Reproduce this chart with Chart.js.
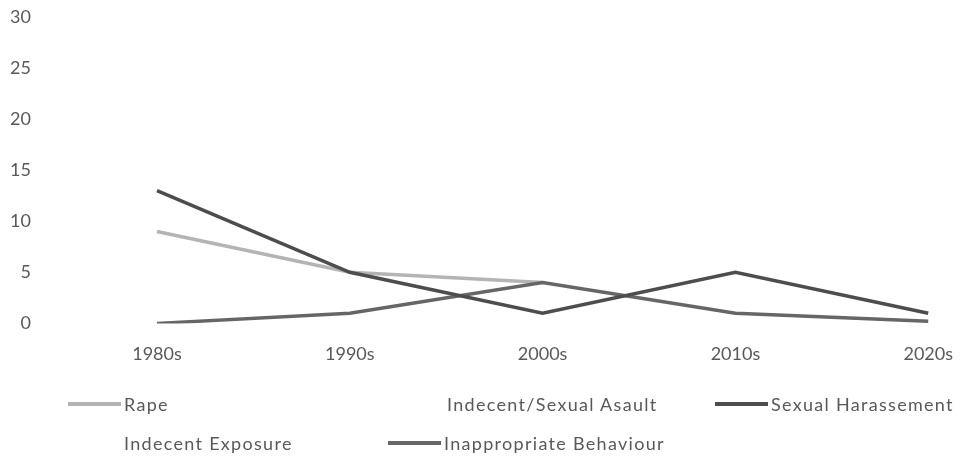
<!DOCTYPE html>
<html>
<head>
<meta charset="utf-8">
<script src="https://cdn.jsdelivr.net/npm/chart.js@4"></script>
<style>
  html, body { margin: 0; padding: 0; background: #fff; }
  #wrap { position: relative; width: 973px; height: 456px; }
  #c { position: absolute; left: 0; top: 0; }
  .lg { position: absolute; font-family: Lato, "Open Sans", sans-serif; font-size: 18px; letter-spacing: 1.3px; color: #595959; display: flex; align-items: center; white-space: nowrap; }
  .sw { width: 53px; height: 4px; margin-right: 3px; }
</style>
</head>
<body>
<div id="wrap">
  <canvas id="c" width="973" height="456"></canvas>
</div>
<script>
const categories = ["1980s", "1990s", "2000s", "2010s", "2020s"];
const rape = [9, 5, 4, null, null];
const indecentAssault = [null, null, null, null, null];
const sexualHarassment = [13, 5, 1, 5, 1];
const indecentExposure = [null, null, null, null, null];
const inappropriateBehaviour = [0, 1, 4, 1, 0.2];
const yTicks = [0, 5, 10, 15, 20, 25, 30];

const seriesNames = ["Rape", "Indecent/Sexual Asault", "Sexual Harassement", "Indecent Exposure", "Inappropriate Behaviour"];
const seriesColors = ["#b4b4b4", "rgba(255,255,255,0)", "#4d4d4d", "rgba(255,255,255,0)", "#666666"];
const seriesData = [rape, indecentAssault, sexualHarassment, indecentExposure, inappropriateBehaviour];

const font = { family: "Lato, 'Open Sans', sans-serif", size: 18 };

new Chart(document.getElementById('c'), {
  type: 'line',
  data: {
    labels: categories,
    datasets: seriesData.map((d, i) => ({
      label: seriesNames[i],
      data: d,
      borderColor: seriesColors[i],
      backgroundColor: seriesColors[i],
      borderWidth: 3.5,
      pointRadius: 0,
      tension: 0,
      spanGaps: false,
      order: i === 4 ? 1 : (i === 2 ? 0 : 2)
    }))
  },
  options: {
    responsive: false,
    animation: false,
    layout: { padding: { left: 0, right: 30, top: 17, bottom: 71 } },
    plugins: { legend: { display: false }, tooltip: { enabled: false } },
    scales: {
      x: {
        grid: { display: false, drawTicks: false },
        border: { display: false },
        ticks: { color: '#595959', font: font, padding: 20, maxRotation: 0 }
      },
      y: {
        min: 0, max: 30,
        afterBuildTicks: s => { s.ticks = yTicks.map(v => ({ value: v })); },
        afterFit: s => { s.width = 157; s.paddingTop = 0; s.paddingBottom = 0; },
        grid: { display: false, drawTicks: false },
        border: { display: false },
        ticks: { color: '#595959', font: font, padding: 126 }
      }
    }
  }
});

const legendPos = [[68, 404], [391, 404], [715, 404], [68, 443], [388, 443]];
const wrap = document.getElementById('wrap');
seriesNames.forEach((n, i) => {
  const el = document.createElement('div');
  el.className = 'lg';
  el.style.left = legendPos[i][0] + 'px';
  el.style.top = (legendPos[i][1] - 12) + 'px';
  el.style.height = '24px';
  const sw = document.createElement('span');
  sw.className = 'sw';
  sw.style.background = seriesColors[i];
  const t = document.createElement('span');
  t.textContent = n;
  el.appendChild(sw); el.appendChild(t);
  wrap.appendChild(el);
});
</script>
</body>
</html>
